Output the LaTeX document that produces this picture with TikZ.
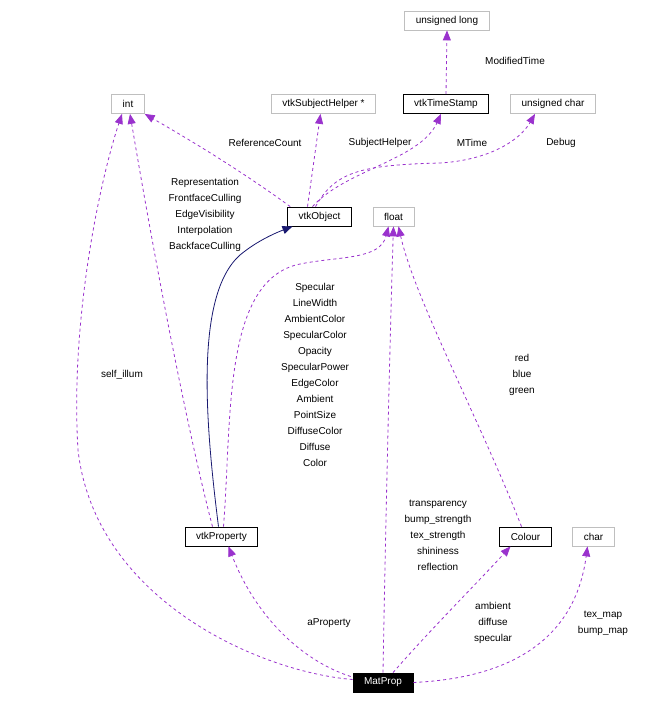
\documentclass[tikz,border=0pt]{standalone}
\usepackage{fontspec}
\setmainfont{Liberation Sans}
\usetikzlibrary{arrows.meta}
\definecolor{orchid}{HTML}{9A32CD}
\definecolor{navyblue}{HTML}{191970}
\definecolor{boxgray}{HTML}{BFBFBF}
\begin{document}
\begin{tikzpicture}[x=1pt,y=-1pt,line width=.8pt,
  font=\fontsize{10}{16}\selectfont,
  cls/.style={draw=black,fill=white,inner xsep=11pt,inner ysep=0pt,minimum height=19pt},
  ext/.style={cls,draw=boxgray},
  member/.style={orchid,dashed,dash pattern=on 3pt off 3pt,-{Triangle[length=10pt,width=8pt]}},
  base/.style={navyblue,-{Triangle[length=10pt,width=8pt]}},
  lbl/.style={align=center,inner sep=0pt}]
\useasboundingbox (0,0) rectangle (669,704);
% classes
\node[ext] (ulong) at (447,20.5) {unsigned long};
\node[ext] (int) at (128,104) {int};
\node[ext] (helper) at (323.5,104) {vtkSubjectHelper *};
\node[cls] (stamp) at (446,104) {vtkTimeStamp};
\node[ext] (uchar) at (553,104) {unsigned char};
\node[cls] (object) at (319.5,216.5) {vtkObject};
\node[ext] (float) at (393.5,216.5) {float};
\node[cls] (property) at (221.5,536.5) {vtkProperty};
\node[cls] (colour) at (525.5,536.5) {Colour};
\node[ext] (char) at (593.5,536.5) {char};
\node[cls,fill=black,text=white] (matprop) at (383,682.5) {MatProp};
% links
\draw[member] (stamp.north) -- (ulong.south);
\draw[member] (object.north west) ++(3,0) .. controls (240,170) and (190,140) .. (int.south east);
\draw[member] (object.north) ++(-12,0) -- ([xshift=-3pt]helper.south);
\draw[member] (object.north) ++(-7,0) .. controls (345,170) and (420,160) .. ([xshift=-5pt]stamp.south);
\draw[member] (object.north) ++(-4,0) .. controls (335,172) and (360,165) .. (440,163) .. controls (490,160) and (520,140) .. ([xshift=-18pt]uchar.south);
\draw[base] ([xshift=-3pt]property.north) .. controls (205,420) and (195,295) .. (240,255) .. controls (258,240) and (278,232) .. ([xshift=-27pt]object.south);
\draw[member] ([xshift=-9pt]property.north) .. controls (195,460) and (165,320) .. ([xshift=2pt]int.south);
\draw[member] ([xshift=2pt]property.north) .. controls (232,420) and (222,280) .. (300,264) .. controls (340,256) and (380,260) .. ([xshift=-5pt]float.south);
\draw[member] (matprop.west) ++(0,-3) .. controls (260,672) and (95,600) .. (78,450) .. controls (70,320) and (100,180) .. ([xshift=-6pt]int.south);
\draw[member] (matprop.west) ++(-2,-6) .. controls (300,660) and (255,615) .. ([xshift=7pt]property.south);
\draw[member] (matprop.north) .. controls (386,500) and (391,300) .. (float.south);
\draw[member] ([xshift=-4pt]colour.north) .. controls (480,420) and (415,300) .. ([xshift=5pt]float.south);
\draw[member] ([xshift=10pt]matprop.north) .. controls (430,630) and (480,580) .. ([xshift=-15pt]colour.south);
\draw[member] (matprop.east) .. controls (510,678) and (575,640) .. ([xshift=-6pt]char.south);
% labels
\node[lbl] (lmod) at (515,61) {ModifiedTime};
\node[lbl] (lref) at (265,143) {ReferenceCount};
\node[lbl] (lsub) at (380,143) {SubjectHelper};
\node[lbl] (lmt) at (472,143) {MTime};
\node[lbl] (ldbg) at (561,143) {Debug};
\node[lbl] (lrep) at (205,215) {Representation\\FrontfaceCulling\\EdgeVisibility\\Interpolation\\BackfaceCulling};
\node[lbl] (lspec) at (315,375) {Specular\\LineWidth\\AmbientColor\\SpecularColor\\Opacity\\SpecularPower\\EdgeColor\\Ambient\\PointSize\\DiffuseColor\\Diffuse\\Color};
\node[lbl] (lself) at (122,375) {self\_illum};
\node[lbl] (lrgb) at (522,375) {red\\blue\\green};
\node[lbl] (ltr) at (438,535) {transparency\\bump\_strength\\tex\_strength\\shininess\\reflection};
\node[lbl] (lprop) at (329,623) {aProperty};
\node[lbl] (lamb) at (493,623) {ambient\\diffuse\\specular};
\node[lbl] (lmap) at (603,623) {tex\_map\\bump\_map};
\end{tikzpicture}
\end{document}
